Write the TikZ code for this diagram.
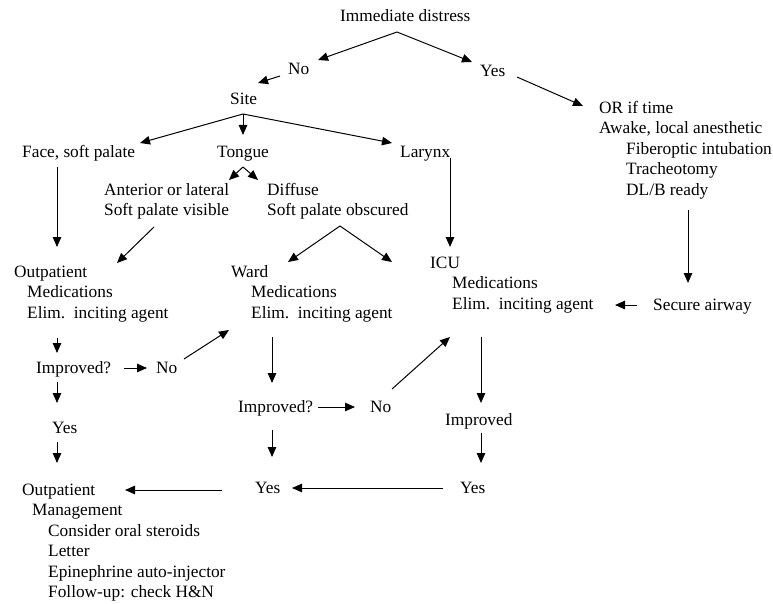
\documentclass[tikz,border=0pt]{standalone}
\usepackage{fontspec}
\setmainfont{Liberation Serif}
\usetikzlibrary{arrows.meta}
\newcommand{\firstln}{\rule{0pt}{13pt}}
\begin{document}
\begin{tikzpicture}[x=1pt,y=-1pt,->,>={Triangle[length=10pt,width=8.5pt]},font=\fontsize{17.3}{20.5}\selectfont]
        \tikzstyle{txt}=[inner sep=0pt,anchor=west,text height=13pt,text depth=3pt]
        \tikzstyle{blk}=[inner sep=0pt,anchor=north west,align=left]
        \tikzstyle{edge}=[line width=1pt]
        \useasboundingbox (0,0) rectangle (773,604);
       \begin{scope}
         \node [txt] (dist) at (340,17) {Immediate distress};
         \node [txt] (no1) at (288,70) {No};
         \node [txt] (yes1) at (480,72) {Yes};
         \node [txt] (site) at (230,100) {Site};
         \node [blk] (orblk) at (599,100) {\firstln OR if time\\Awake, local anesthetic\\\hspace*{27pt}Fiberoptic intubation\\\hspace*{27pt}Tracheotomy\\\hspace*{27pt}DL/B ready};
         \node [txt] (face) at (22,153) {Face, soft palate};
         \node [txt] (tongue) at (217,153) {Tongue};
         \node [txt] (larynx) at (400,153) {Larynx};
         \node [blk] (antr) at (104,182) {\firstln Anterior or lateral\\Soft palate visible};
         \node [blk] (diff) at (267,182) {\firstln Diffuse\\Soft palate obscured};
         \node [blk] (outp) at (14,264) {\firstln Outpatient\\\hspace*{13pt}Medications\\\hspace*{13pt}Elim.\ \ inciting agent};
         \node [blk] (ward) at (231,264) {\firstln Ward\\\hspace*{20pt}Medications\\\hspace*{20pt}Elim.\ \ inciting agent};
         \node [blk] (icu) at (430,255) {\firstln ICU\\\hspace*{22pt}Medications\\\hspace*{22pt}Elim.\ \ inciting agent};
         \node [txt] (secure) at (653,305) {Secure airway};
         \node [txt] (imp1) at (36,368) {Improved?};
         \node [txt] (no2) at (156,368) {No};
         \node [txt] (yes2) at (52,428) {Yes};
         \node [txt] (imp2) at (238,407) {Improved?};
         \node [txt] (no3) at (370,407) {No};
         \node [txt] (imp3) at (445,420) {Improved};
         \node [txt] (yes3) at (255,488) {Yes};
         \node [txt] (yes4) at (460,488) {Yes};
         \node [blk] (mgmt) at (22,482) {\firstln Outpatient\\\hspace*{10pt}Management\\\hspace*{26pt}Consider oral steroids\\\hspace*{26pt}Letter\\\hspace*{26pt}Epinephrine auto-injector\\\hspace*{26pt}Follow-up: check H\&N};

         \draw[edge] ([shift={(57,15)}]dist.west) -- ([shift={(30,-10)}]no1.west);
         \draw[edge] ([shift={(57,15)}]dist.west) -- ([shift={(-8,-10)}]yes1.west);
         \draw[edge] ([shift={(-8,6)}]no1.west) -- ([shift={(28,-17)}]site.west);
         \draw[edge] ([shift={(37,5)}]yes1.west) -- ([shift={(-16,6)}]orblk.north west);
         \draw[edge] ([shift={(13,14)}]site.west) -- ([shift={(118,-10)}]face.west);
         \draw[edge] ([shift={(13,14)}]site.west) -- ([shift={(26,-18)}]tongue.west);
         \draw[edge] ([shift={(13,14)}]site.west) -- ([shift={(-8,-10)}]larynx.west);
         \draw[edge] ([shift={(26,14)}]tongue.west) -- ([shift={(125,-2)}]antr.north west);
         \draw[edge] ([shift={(26,14)}]tongue.west) -- ([shift={(-9,-2)}]diff.north west);
         \draw[edge] ([shift={(35,14)}]face.west) -- ([shift={(43,-17)}]outp.north west);
         \draw[edge] ([shift={(50,45)}]antr.north west) -- ([shift={(103,-1)}]outp.north west);
         \draw[edge] ([shift={(73,44)}]diff.north west) -- ([shift={(57,-2)}]ward.north west);
         \draw[edge] ([shift={(73,44)}]diff.north west) -- ([shift={(-38,7)}]icu.north west);
         \draw[edge] ([shift={(50,5)}]larynx.west) -- ([shift={(20,-8)}]icu.north west);
         \draw[edge] ([shift={(89,110)}]orblk.north west) -- ([shift={(35,-22)}]secure.west);
         \draw[edge] ([shift={(-16,0)}]secure.west) -- ([shift={(185,50)}]icu.north west);
         \draw[edge] ([shift={(43,74)}]outp.north west) -- ([shift={(21,-15)}]imp1.west);
         \draw[edge] ([shift={(88,0)}]imp1.west) -- ([shift={(-9,0)}]no2.west);
         \draw[edge] ([shift={(28,-9)}]no2.west) -- ([shift={(-2,66)}]ward.north west);
         \draw[edge] ([shift={(21,14)}]imp1.west) -- ([shift={(5,-25)}]yes2.west);
         \draw[edge] ([shift={(5,14)}]yes2.west) -- ([shift={(35,-19)}]mgmt.north west);
         \draw[edge] ([shift={(41,73)}]ward.north west) -- ([shift={(34,-24)}]imp2.west);
         \draw[edge] ([shift={(80,0)}]imp2.west) -- ([shift={(-15,0)}]no3.west);
         \draw[edge] ([shift={(22,-18)}]no3.west) -- ([shift={(20,82)}]icu.north west);
         \draw[edge] ([shift={(34,23)}]imp2.west) -- ([shift={(17,-31)}]yes3.west);
         \draw[edge] ([shift={(51,82)}]icu.north west) -- ([shift={(36,-17)}]imp3.west);
         \draw[edge] ([shift={(36,13)}]imp3.west) -- ([shift={(21,-25)}]yes4.west);
         \draw[edge] ([shift={(-17,0)}]yes4.west) -- ([shift={(37,0)}]yes3.west);
         \draw[edge] ([shift={(-33,2)}]yes3.west) -- ([shift={(103,8)}]mgmt.north west);
        \end{scope}
      \end{tikzpicture}
\end{document}
